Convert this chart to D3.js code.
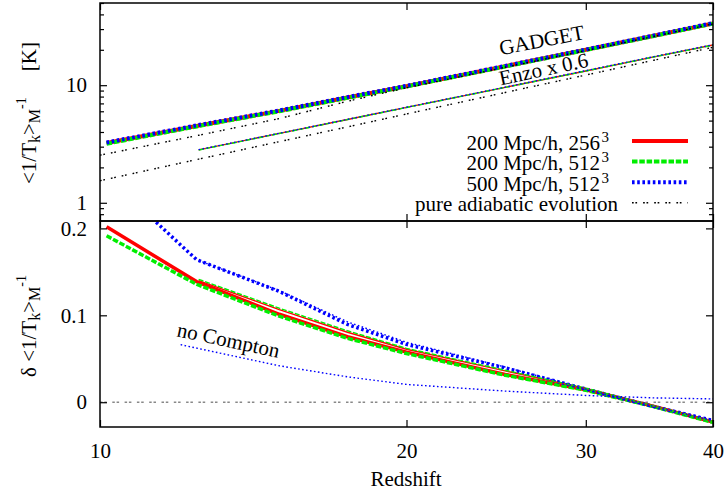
<!DOCTYPE html>
<meta charset="utf-8">
<style>
body { margin: 0; background: #fff; }
svg { display: block; font-family: "Liberation Serif", "Times New Roman", serif; }
.frame { fill: none; stroke: #000; stroke-width: 1.5; }
.tick line { stroke: #000; stroke-width: 1.2; }
.tick text { font-size: 21px; font-family: "Liberation Serif", serif; fill: #000; }
.lbl { font-size: 21px; fill: #000; font-family: "Liberation Serif", serif; }
.series { fill: none; }
</style>
<body>
<svg width="725" height="493"></svg>
<script src="https://d3js.org/d3.v7.min.js"></script>
<script>
// redshift grids
var zGadget = [10.15, 12.44, 15, 17.5, 20, 25, 30, 35, 40];
var zEnzo = [12.5, 15, 17.5, 20, 25, 30, 35, 40];
var zAdiabatic = [10, 12.5, 15, 17.5, 20, 25, 30, 35, 40];
var zNoCompton = [12, 15, 17.5, 20, 25, 30, 35, 40];

// top panel: <1/Tk>_M^-1 [K]
var gadget256 = [3.22, 4.50, 6.05, 7.85, 9.80, 14.5, 20.0, 26.3, 33.5];
var gadget512 = [3.18, 4.46, 6.00, 7.80, 9.75, 14.4, 19.9, 26.2, 33.4];
var gadget500 = [3.26, 4.55, 6.10, 7.92, 9.88, 14.6, 20.1, 26.5, 33.8];
var enzo256 = [2.82, 3.89, 5.11, 6.47, 9.59, 13.2, 17.4, 22.0];
var enzo512 = [2.81, 3.88, 5.10, 6.46, 9.57, 13.2, 17.4, 21.9];
var enzo500 = [2.83, 3.90, 5.12, 6.49, 9.62, 13.3, 17.5, 22.1];
var adiabaticGadget = [2.54, 3.75, 5.20, 7.30, 9.50, 14.2, 19.7, 26.0, 33.2];
var adiabaticEnzo = [1.54, 2.35, 3.31, 4.42, 5.69, 8.67, 12.2, 16.3, 21.0];

// bottom panel: delta <1/Tk>_M^-1
var dGadget256 = [0.2018, 0.1388, 0.1012, 0.0753, 0.0576, 0.0320, 0.0144, -0.0048, -0.0227];
var dGadget512 = [0.1915, 0.1357, 0.0990, 0.0735, 0.0560, 0.0310, 0.0138, -0.0052, -0.0232];
var dGadget500 = [0.2600, 0.1640, 0.1275, 0.0895, 0.0665, 0.0395, 0.0152, -0.0050, -0.0210];
var dEnzo256 = [0.1400, 0.1065, 0.0805, 0.0609, 0.0360, 0.0160, -0.0043, -0.0221];
var dEnzo512 = [0.1414, 0.1082, 0.0822, 0.0620, 0.0368, 0.0162, -0.0045, -0.0222];
var dEnzo500 = [0.1630, 0.1285, 0.0925, 0.0690, 0.0405, 0.0152, -0.0050, -0.0212];
var dNoCompton = [0.0662, 0.0419, 0.0292, 0.0205, 0.0128, 0.0078, 0.0050, 0.0038];

// ticks and legend text
var xTicks = [10, 20, 30, 40];
var yTopMajor = [1, 10];
var yTopMinor = [0.8, 0.9, 2, 3, 4, 5, 6, 7, 8, 9, 20, 30, 40, 50];
var yBotMajor = [0, 0.1, 0.2];
var legendLabels = ["200 Mpc/h, 256", "200 Mpc/h, 512", "500 Mpc/h, 512", "pure adiabatic evolution"];
var legendSup = ["3", "3", "3", ""];

var styles = {
  red: {stroke: "#ff0000", dash: null},
  green: {stroke: "#00ee00", dash: "5.5,1.8"},
  blue: {stroke: "#0000ff", dash: "2.6,2.6"},
  black: {stroke: "#000", dash: "1.7,1.7,1.7,6", width: 1.4},
  greenThin: {stroke: "#00ee00", dash: "5,1.8"},
  blueThin: {stroke: "#0000ff", dash: "1.6,2.4"}
};

var svg = d3.select("svg"),
    left = 100, right = 713, plotTop = 3, mid = 221, bottom = 427;

var x = d3.scaleLog().domain([10, 40]).range([left, right]);
var yTop = d3.scaleLog().domain([0.7, 50]).range([mid, plotTop]);
var yBot = d3.scaleLinear().domain([-0.0285, 0.2085]).range([bottom, mid]);

var defs = svg.append("defs");
defs.append("clipPath").attr("id", "clipTop").append("rect")
    .attr("x", left).attr("y", plotTop).attr("width", right - left).attr("height", mid - plotTop);
defs.append("clipPath").attr("id", "clipBot").append("rect")
    .attr("x", left).attr("y", mid).attr("width", right - left).attr("height", bottom - mid);

function pairs(zs, vs) { return zs.map(function(z, i) { return [z, vs[i]]; }); }

function drawLine(g, y, zs, vs, st, w) {
  var line = d3.line().x(function(d) { return x(d[0]); }).y(function(d) { return y(d[1]); });
  g.append("path")
    .datum(pairs(zs, vs))
    .attr("class", "series")
    .attr("d", line)
    .attr("stroke", st.stroke)
    .attr("stroke-width", st.width || w)
    .attr("stroke-dasharray", st.dash);
}

function axis(g, a) {
  g.call(a);
  g.select(".domain").remove();
}

// ---- top panel ----
var gTop = svg.append("g").attr("clip-path", "url(#clipTop)");
drawLine(gTop, yTop, zGadget, gadget256, styles.red, 4);
drawLine(gTop, yTop, zGadget, gadget512, styles.green, 4);
drawLine(gTop, yTop, zGadget, gadget500, styles.blue, 4);
drawLine(gTop, yTop, zEnzo, enzo256, styles.red, 1.4);
drawLine(gTop, yTop, zEnzo, enzo512, styles.greenThin, 1.4);
drawLine(gTop, yTop, zEnzo, enzo500, styles.blueThin, 1.4);
drawLine(gTop, yTop, zAdiabatic, adiabaticGadget, styles.black, 1.4);
drawLine(gTop, yTop, zAdiabatic, adiabaticEnzo, styles.black, 1.4);

// ---- bottom panel ----
var gBot = svg.append("g").attr("clip-path", "url(#clipBot)");
gBot.append("line")
    .attr("x1", left).attr("x2", right)
    .attr("y1", yBot(0)).attr("y2", yBot(0))
    .attr("stroke", "#888").attr("stroke-width", 1.4)
    .attr("stroke-dasharray", "2.5,1.8,2.5,5.5");
drawLine(gBot, yBot, zGadget, dGadget256, styles.red, 3.5);
drawLine(gBot, yBot, zGadget, dGadget512, styles.green, 3.5);
drawLine(gBot, yBot, zGadget, dGadget500, styles.blue, 3.5);
drawLine(gBot, yBot, zEnzo, dEnzo256, styles.red, 1.4);
drawLine(gBot, yBot, zEnzo, dEnzo512, styles.greenThin, 1.4);
drawLine(gBot, yBot, zEnzo, dEnzo500, styles.blueThin, 1.4);
drawLine(gBot, yBot, zNoCompton, dNoCompton, styles.blueThin, 1.4);

// ---- axes ----
axis(svg.append("g").attr("transform", "translate(" + left + ",0)"),
  d3.axisLeft(yTop).tickValues(yTopMajor).tickSize(-7).tickPadding(13).tickFormat(d3.format("d")));
axis(svg.append("g").attr("transform", "translate(" + left + ",0)"),
  d3.axisLeft(yTop).tickValues(yTopMinor).tickSize(-4).tickFormat(""));
axis(svg.append("g").attr("transform", "translate(" + right + ",0)"),
  d3.axisRight(yTop).tickValues(yTopMajor).tickSize(-7).tickFormat(""));
axis(svg.append("g").attr("transform", "translate(" + right + ",0)"),
  d3.axisRight(yTop).tickValues(yTopMinor).tickSize(-4).tickFormat(""));

axis(svg.append("g").attr("transform", "translate(" + left + ",0)"),
  d3.axisLeft(yBot).tickValues(yBotMajor).tickSize(-7).tickPadding(13)
    .tickFormat(function(d) { return d === 0 ? "0" : d3.format(".1f")(d); }));
axis(svg.append("g").attr("transform", "translate(" + right + ",0)"),
  d3.axisRight(yBot).tickValues(yBotMajor).tickSize(-7).tickFormat(""));

axis(svg.append("g").attr("transform", "translate(0," + plotTop + ")"),
  d3.axisTop(x).tickValues(xTicks).tickSize(-7).tickFormat(""));
axis(svg.append("g").attr("transform", "translate(0," + mid + ")"),
  d3.axisBottom(x).tickValues(xTicks).tickSize(-7).tickFormat(""));
axis(svg.append("g").attr("transform", "translate(0," + mid + ")"),
  d3.axisTop(x).tickValues(xTicks).tickSize(-7).tickFormat(""));
axis(svg.append("g").attr("transform", "translate(0," + bottom + ")"),
  d3.axisBottom(x).tickValues(xTicks).tickSize(-7).tickPadding(16).tickFormat(d3.format("d")));

svg.append("rect").attr("class", "frame")
    .attr("x", left).attr("y", plotTop).attr("width", right - left).attr("height", mid - plotTop);
svg.append("rect").attr("class", "frame")
    .attr("x", left).attr("y", mid).attr("width", right - left).attr("height", bottom - mid);

// ---- in-plot labels ----
svg.append("text").attr("class", "lbl").attr("text-anchor", "middle").attr("font-size", 20)
    .attr("transform", "translate(543,47) rotate(-11)").text("GADGET");
svg.append("text").attr("class", "lbl").attr("text-anchor", "middle")
    .attr("transform", "translate(545,76) rotate(-12)").text("Enzo x 0.6");
svg.append("text").attr("class", "lbl").attr("text-anchor", "middle")
    .attr("transform", "translate(227,347) rotate(12)").text("no Compton");

// ---- legend ----
var legendStyles = [styles.red, styles.green, styles.blue, styles.black];
var legendEnd = [609, 609, 609, 618];
legendLabels.forEach(function(lab, i) {
  var ly = 141 + i * 20.6;
  var t = svg.append("text").attr("class", "lbl").attr("text-anchor", "end")
      .attr("x", legendEnd[i]).attr("y", ly + 8.5);
  t.append("tspan").text(lab);
  if (legendSup[i]) t.append("tspan").attr("dy", -8).attr("dx", 1.5).attr("font-size", 15).text(legendSup[i]);
  var st = legendStyles[i];
  svg.append("line")
      .attr("x1", 632).attr("x2", 688).attr("y1", ly).attr("y2", ly)
      .attr("stroke", st.stroke).attr("stroke-width", st.width || 4)
      .attr("stroke-dasharray", st.dash);
});

// ---- axis titles ----
svg.append("text").attr("class", "lbl").attr("text-anchor", "middle").attr("font-size", 22)
    .attr("x", 406).attr("y", 486).text("Redshift");

function yTitle(ty, prefix, withUnit) {
  var t = svg.append("text").attr("class", "lbl")
      .attr("transform", "translate(36," + ty + ") rotate(-90)");
  t.append("tspan").text(prefix + "<1/T");
  t.append("tspan").attr("dy", 3.5).attr("font-size", 16).text("k");
  t.append("tspan").attr("dy", -3.5).text(">");
  t.append("tspan").attr("dy", 3.5).attr("font-size", 16).text("M");
  t.append("tspan").attr("dy", -14).attr("font-size", 14).text("-1");
  if (withUnit) t.append("tspan").attr("dy", 10.5).attr("dx", 26).text("[K]");
}
yTitle(184, "", true);
yTitle(377, "\u03b4 ", false);
</script>
</body>
